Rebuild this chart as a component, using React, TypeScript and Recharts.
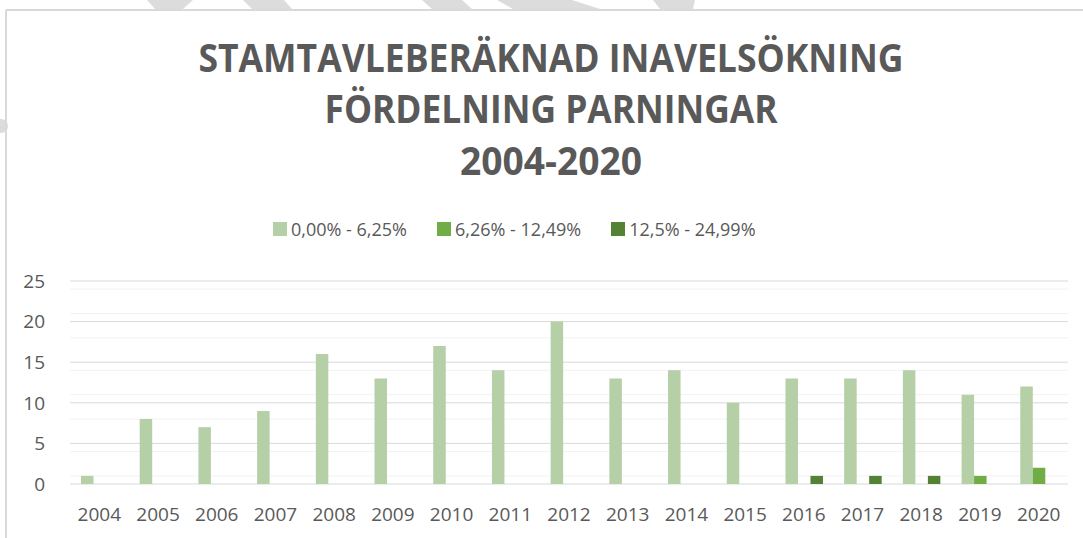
import React from 'react';
import { BarChart, Bar, XAxis, YAxis, CartesianGrid } from 'recharts';

const YEARS = ['2004', '2005', '2006', '2007', '2008', '2009', '2010', '2011', '2012', '2013', '2014', '2015', '2016', '2017', '2018', '2019', '2020'];
const LOW = [1, 8, 7, 9, 16, 13, 17, 14, 20, 13, 14, 10, 13, 13, 14, 11, 12];
const MID = [0, 0, 0, 0, 0, 0, 0, 0, 0, 0, 0, 0, 0, 0, 0, 1, 2];
const HIGH = [0, 0, 0, 0, 0, 0, 0, 0, 0, 0, 0, 0, 1, 1, 1, 0, 0];

const SERIES_NAMES = ['0,00% - 6,25%', '6,26% - 12,49%', '12,5% - 24,99%'];
const COLORS = ['#B5CFA6', '#70AD47', '#548235'];

const MAJOR_TICKS = [0, 5, 10, 15, 20, 25];
const MINOR_TICKS = [1, 2, 3, 4, 6, 7, 8, 9, 11, 12, 13, 14, 16, 17, 18, 19, 21, 22, 23, 24];

const TITLE_LINES = ['STAMTAVLEBERÄKNAD INAVELSÖKNING', 'FÖRDELNING PARNINGAR', '2004-2020'];

const data = YEARS.map((year, i) => ({
  year,
  low: LOW[i],
  mid: MID[i],
  high: HIGH[i],
}));

const FONT = '"Open Sans", "DejaVu Sans", sans-serif';
const TEXT = '#595959';

// title widths/baselines
const titleLayout = [
  { y: 72, w: 705 },
  { y: 123, w: 453 },
  { y: 175, w: 182 },
];

const LegendBox = () => (
  <div
    style={{
      position: 'absolute',
      left: 273,
      top: 217,
      display: 'flex',
      fontFamily: FONT,
      fontSize: 18,
      lineHeight: '24px',
      color: TEXT,
    }}
  >
    {SERIES_NAMES.map((name, i) => (
      <div key={name} style={{ display: 'flex', alignItems: 'center', marginLeft: i === 0 ? 0 : 30 }}>
        <span style={{ width: 14, height: 14, background: COLORS[i], display: 'inline-block', marginRight: 4 }} />
        <span>{name}</span>
      </div>
    ))}
  </div>
);

const App = () => {
  return (
    <div style={{ position: 'absolute', left: 0, top: 0, width: 1083, height: 538, background: '#fff', overflow: 'hidden' }}>
      <svg width={1083} height={538} style={{ position: 'absolute', left: 0, top: 0 }}>
        {/* grey scraps above the frame */}
        <g fill="#DCDCDC">
          <polygon points="147,0 193,0 183,9 155,9" />
          <polygon points="243,0 284,0 292,9 252,9" />
          <polygon points="422,0 462,0 472,9 432,9" />
          <polygon points="497,0 572,0 600,9 513,9" />
          <polygon points="653,0 695,0 693,9 660,9" />
          <circle cx={1} cy={126} r={7} />
        </g>
        <line x1={6} y1={10} x2={1083} y2={10} stroke="#D9D9D9" strokeWidth={2} />
        <line x1={6} y1={10} x2={6} y2={538} stroke="#D9D9D9" strokeWidth={2} />
        {TITLE_LINES.map((line, i) => (
          <text
            key={line}
            x={551}
            y={titleLayout[i].y}
            textAnchor="middle"
            textLength={titleLayout[i].w}
            lengthAdjust="spacingAndGlyphs"
            fontFamily={FONT}
            fontWeight={700}
            fontSize={40}
            fill={TEXT}
          >
            {line}
          </text>
        ))}
      </svg>
      <LegendBox />
      <div style={{ position: 'absolute', left: 0, top: 0 }}>
        <BarChart
          width={1083}
          height={538}
          data={data}
          margin={{ top: 281, right: 15, left: 0, bottom: 24 }}
          barGap={0}
          barSize={12.5}
        >
          <CartesianGrid vertical={false} horizontalValues={MINOR_TICKS} stroke="#F2F2F2" strokeWidth={1} />
          <CartesianGrid vertical={false} horizontalValues={MAJOR_TICKS} stroke="#D9D9D9" strokeWidth={1} />
          <XAxis
            dataKey="year"
            axisLine={false}
            tickLine={false}
            tickSize={0}
            tickMargin={24}
            height={30}
            interval={0}
            tick={{ fill: TEXT, fontSize: 19, fontFamily: FONT }}
          />
          <YAxis
            domain={[0, 25]}
            ticks={MAJOR_TICKS}
            axisLine={false}
            tickLine={false}
            tickSize={0}
            tickMargin={25}
            width={70}
            tick={{ fill: TEXT, fontSize: 19, fontFamily: FONT }}
          />
          <Bar dataKey="low" name={SERIES_NAMES[0]} fill={COLORS[0]} isAnimationActive={false} />
          <Bar dataKey="mid" name={SERIES_NAMES[1]} fill={COLORS[1]} isAnimationActive={false} />
          <Bar dataKey="high" name={SERIES_NAMES[2]} fill={COLORS[2]} isAnimationActive={false} />
        </BarChart>
      </div>
    </div>
  );
};

export default App;
